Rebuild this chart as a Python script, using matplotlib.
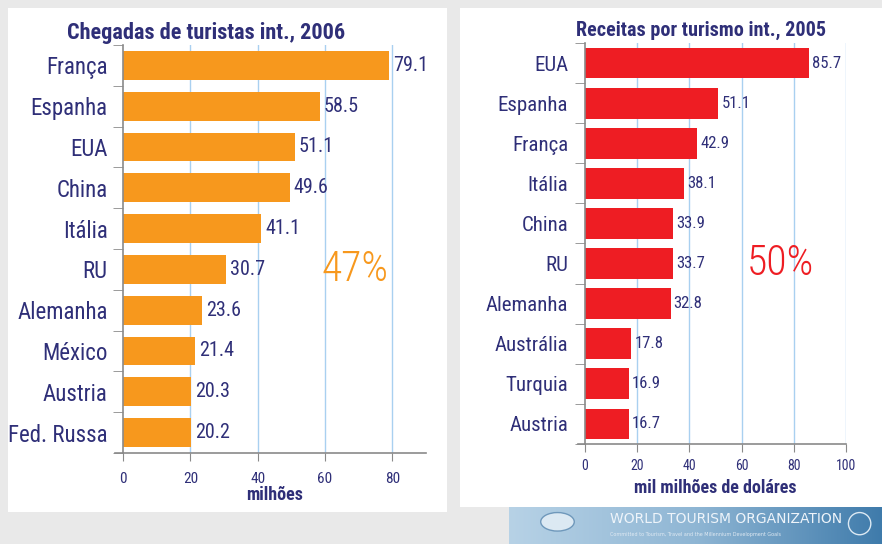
import numpy as np
import matplotlib
matplotlib.use("Agg")
import matplotlib.pyplot as plt
from matplotlib.patches import Rectangle, Ellipse

# data
arr_countries = ["França", "Espanha", "EUA", "China", "Itália", "RU",
                 "Alemanha", "México", "Austria", "Fed. Russa"]
arr_values = [79.1, 58.5, 51.1, 49.6, 41.1, 30.7, 23.6, 21.4, 20.3, 20.2]

rec_countries = ["EUA", "Espanha", "França", "Itália", "China", "RU",
                 "Alemanha", "Austrália", "Turquia", "Austria"]
rec_values = [85.7, 51.1, 42.9, 38.1, 33.9, 33.7, 32.8, 17.8, 16.9, 16.7]

arr_ticks = [0, 20, 40, 60, 80]
rec_ticks = [0, 20, 40, 60, 80, 100]

plt.rcParams["font.family"] = ["Roboto Condensed", "Liberation Sans", "DejaVu Sans"]

NAVY = "#2f2f78"
GRID = "#a9d0f0"
SPINE = "#8a8a8a"

fig = plt.figure(figsize=(8.82, 5.44), dpi=100)
fig.patch.set_facecolor("#e9e9e9")

# white panels
fig.patches.append(Rectangle((8 / 882, 1 - 512 / 544), 439 / 882, 504 / 544,
                             transform=fig.transFigure, facecolor="white",
                             edgecolor="none", zorder=-5))
fig.patches.append(Rectangle((460 / 882, 1 - 507 / 544), 422 / 882, 499 / 544,
                             transform=fig.transFigure, facecolor="white",
                             edgecolor="none", zorder=-5))


def draw_panel(ax, cats, vals, ticks, xmax, color, xlabel, xl_size, pct, pct_x,
               lab_size, lab_pad, val_size, tick_size, tick_pad, xl_pad, bar_h):
    ax.patch.set_alpha(0)
    y = np.arange(len(cats))
    ax.barh(y, vals, height=bar_h, color=color, zorder=2)
    ax.set_xlim(0, xmax)
    ax.set_ylim(len(cats) - 0.5, -0.5)
    ax.set_yticks(y)
    ax.set_yticklabels(cats, fontsize=lab_size, color=NAVY)
    ax.set_yticks(np.arange(len(cats) + 1) - 0.5, minor=True)
    ax.tick_params(axis="y", which="major", length=0, pad=lab_pad)
    ax.tick_params(axis="y", which="minor", length=7, color=SPINE, direction="out")
    ax.set_xticks(ticks)
    ax.set_xticklabels([str(t) for t in ticks], fontsize=tick_size, color=NAVY)
    ax.tick_params(axis="x", length=6, color=SPINE, pad=tick_pad)
    for t in ticks[1:]:
        ax.axvline(t, color=GRID, lw=1, zorder=1)
    for s in ["top", "right"]:
        ax.spines[s].set_visible(False)
    for s in ["left", "bottom"]:
        ax.spines[s].set_color(SPINE)
        ax.spines[s].set_linewidth(1.2)
    ax.plot([-0.027, 0], [0, 0], transform=ax.transAxes, color=SPINE,
            lw=1.2, clip_on=False)
    for yi, v in zip(y, vals):
        ax.text(v + xmax * 0.012, yi, f"{v}", va="center", ha="left",
                fontsize=val_size, color=NAVY)
    ax.text(pct_x, 5, pct, color=color, fontsize=30, fontweight="light",
            ha="center", va="center")
    ax.set_xlabel(xlabel, fontsize=xl_size, fontweight="bold", color=NAVY,
                  labelpad=xl_pad)


ax1 = fig.add_axes([123 / 882, 1 - 453 / 544, 303 / 882, 408 / 544])
draw_panel(ax1, arr_countries, arr_values, arr_ticks, 90, "#f7981d",
           "milhões", 13, "47%", 69, 16.5, 11, 14.5, 11, 8, 0, 0.71)

ax2 = fig.add_axes([585 / 882, 1 - 444 / 544, 261 / 882, 401 / 544])
draw_panel(ax2, rec_countries, rec_values, rec_ticks, 100, "#ee1d23",
           "mil milhões de doláres", 13, "50%", 75, 15, 12, 12, 10, 5, 4, 0.77)

fig.text(206 / 882, 1 - 33 / 544, "Chegadas de turistas int., 2006",
         fontsize=16, fontweight="bold", color=NAVY, ha="center", va="center")
fig.text(701 / 882, 1 - 30 / 544, "Receitas por turismo int., 2005",
         fontsize=14.5, fontweight="bold", color=NAVY, ha="center", va="center")

# logo banner
bax = fig.add_axes([509 / 882, 0, 373 / 882, 37 / 544])
grad = np.linspace(0, 1, 256).reshape(1, -1)
cmap = matplotlib.colors.LinearSegmentedColormap.from_list(
    "b", ["#b7d2e6", "#8fb6d4", "#3f7bab"])
bax.imshow(grad, aspect="auto", cmap=cmap, extent=[0, 1, 0, 1])
bax.add_patch(Ellipse((0.13, 0.6), 0.09, 0.5, facecolor="#dce9f3",
                      edgecolor="#6f98bb", lw=1))
bax.text(0.27, 0.68, "WORLD TOURISM ORGANIZATION", color="#eef4fa",
         fontsize=10, va="center", ha="left", family="DejaVu Sans")
bax.text(0.27, 0.25, "Committed to Tourism, Travel and the Millennium Development Goals",
         color="#e0eaf3", fontsize=3.5, va="center", ha="left", family="DejaVu Sans")
bax.add_patch(Ellipse((0.94, 0.55), 0.06, 0.6, facecolor="none",
                      edgecolor="#dce9f3", lw=1))
bax.set_xlim(0, 1)
bax.set_ylim(0, 1)
bax.axis("off")

fig.savefig("out.png", dpi=100, facecolor=fig.get_facecolor())
